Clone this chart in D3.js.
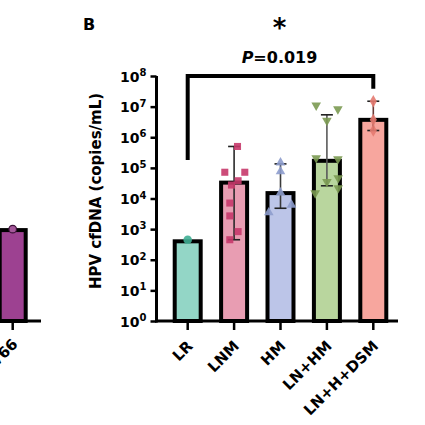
<!DOCTYPE html>
<html lang="en">
<head>
<meta charset="UTF-8">
<title>HPV cfDNA</title>
<script src="https://d3js.org/d3.v7.min.js"></script>
<style>
    body { margin: 0; background: #fff; }
    text { font-family: "DejaVu Sans", sans-serif; font-weight: bold; fill: #000; }
</style>
</head>
<body>
<svg id="chart" width="425" height="425"></svg>
<script>
// ---- data (copies/mL) ----
const categories = ["LR", "LNM", "HM", "LN+HM", "LN+H+DSM"];
const barValues = [400, 33000, 15000, 170000, 3700000];
const errLow = [null, 450, 4800, 26000, 1660000];
const errHigh = [null, 500000, 135000, 5400000, 15000000];
const pointsLR = [450];
const pointsLNM = [500000, 72000, 72000, 38000, 27500, 7100, 2700, 830, 450];
const pointsHM = [148000, 76000, 15500, 3500, 6200];
const pointsLNHM = [11000000, 8300000, 3500000, 210000, 195000, 47000, 35000, 22000, 15000];
const pointsDSM = [15000000, 3700000, 1660000];
const yTickExps = [0, 1, 2, 3, 4, 5, 6, 7, 8];
const pText = "0.019";

// left panel (cut off)
const categoriesA = ["HPV66"];
const barValuesA = [930];
const pointsA = [1000];

// ---- styles / layout ----
const fills = ["#93d6c6", "#e89db2", "#bcc5e8", "#b9d69e", "#f7a69e"];
const dotFills = ["#3fae94", "#c7386a", "#8d9ccd", "#7b9a52", "#e47a70"];
const errColors = ["#333", "#2a2a2a", "#3a3a3a", "#5a5a5a", "#6a3a36"];
const symbols = [d3.symbolCircle, d3.symbolSquare, d3.symbolTriangle, d3.symbolTriangle, d3.symbolDiamond];
const symbolSize = [58, 50, 40, 40, 44];
const symbolRot = [0, 0, 0, 180, 0];
const jitterPx = [
    [0],
    [3.4, -9.3, 10.7, 4, -2.6, -4.3, -4.3, 4, -4.3],
    [0, 0, 0, -11.7, 11],
    [-10.7, 11, 0, -10.7, 11, 11.3, 0, 11.3, -11.7],
    [0, 0, 0]
];
const allPoints = [pointsLR, pointsLNM, pointsHM, pointsLNHM, pointsDSM];

const svg = d3.select("#chart");
const baseY = 321;

const y = d3.scaleLog().domain([1, 1e8]).range([baseY, 76]);
const x = d3.scaleBand().domain(categories).range([164.5, 396.5])
    .paddingInner(0.44).paddingOuter(0.22);
const bw = x.bandwidth();

// bars
svg.append("g").selectAll("rect")
    .data(categories)
    .enter().append("rect")
    .attr("x", d => x(d))
    .attr("y", (d, i) => y(barValues[i]))
    .attr("width", bw)
    .attr("height", (d, i) => baseY - y(barValues[i]))
    .style("fill", (d, i) => fills[i])
    .style("stroke", "#000")
    .style("stroke-width", 4);

// error bars
const eb = svg.append("g");
categories.forEach(function (c, i) {
    if (errLow[i] == null) return;
    const cx = x(c) + bw / 2;
    eb.append("line").attr("x1", cx).attr("x2", cx)
        .attr("y1", y(errLow[i])).attr("y2", y(errHigh[i]))
        .style("stroke", errColors[i]).style("stroke-width", 1.6);
    [errLow[i], errHigh[i]].forEach(function (v) {
        eb.append("line").attr("x1", cx - 6).attr("x2", cx + 6)
            .attr("y1", y(v)).attr("y2", y(v))
            .style("stroke", "#222").style("stroke-width", 1.6);
    });
});

// points
const pg = svg.append("g");
allPoints.forEach(function (pts, i) {
    const cx = x(categories[i]) + bw / 2;
    pg.selectAll(".p" + i)
        .data(pts)
        .enter().append("path")
        .attr("class", "p" + i)
        .attr("d", d3.symbol().type(symbols[i]).size(symbolSize[i]))
        .attr("transform", (d, j) => "translate(" + (cx + jitterPx[i][j]) + "," + y(d) + ") rotate(" + symbolRot[i] + ")")
        .style("fill", dotFills[i])
        .style("opacity", 0.9);
});

// y axis
const yAxis = svg.append("g").attr("transform", "translate(156.5,0)")
    .call(d3.axisLeft(y).tickValues(yTickExps.map(e => Math.pow(10, e))).tickSize(6).tickSizeOuter(0).tickFormat(""));
yAxis.select(".domain").attr("d", "M0," + (baseY + 1.5) + "V" + y(1e8)).style("stroke-width", 3);
yAxis.selectAll(".tick line").style("stroke-width", 2.5);
yAxis.selectAll(".tick").each(function (d, i) {
    const t = d3.select(this).append("text")
        .attr("x", -10).attr("dy", "0.36em")
        .style("text-anchor", "end").style("font-size", "14px");
    t.append("tspan").text("10");
    t.append("tspan").attr("dy", "-0.55em").style("font-size", "10px").text(yTickExps[i]);
});

// x axis
const xAxis = svg.append("g").attr("transform", "translate(0," + baseY + ")")
    .call(d3.axisBottom(x).tickSize(9).tickSizeOuter(0).tickFormat(""));
xAxis.select(".domain").attr("d", "M155,0H398").style("stroke-width", 3);
xAxis.selectAll(".tick line").style("stroke-width", 2.5);
xAxis.selectAll(".tick").append("text")
    .attr("transform", "translate(6,26) rotate(-45)")
    .style("text-anchor", "end").style("font-size", "15px")
    .text(d => d);

// y label
svg.append("text")
    .attr("transform", "translate(101,191) rotate(-90)")
    .style("text-anchor", "middle").style("font-size", "15px")
    .text("HPV cfDNA (copies/mL)");

// significance bracket
const bx1 = x(categories[0]) + bw / 2, bx2 = x(categories[4]) + bw / 2;
svg.append("path")
    .attr("d", "M" + bx1 + "," + y(1.8e5) + "V" + y(1e8) + "H" + bx2 + "V" + y(3.8e7))
    .style("fill", "none").style("stroke", "#000").style("stroke-width", 4);
const pt = svg.append("text").attr("x", (bx1 + bx2) / 2 - 1).attr("y", 63)
    .style("text-anchor", "middle").style("font-size", "16px");
pt.append("tspan").style("font-style", "italic").text("P");
pt.append("tspan").text("=" + pText);
svg.append("text").attr("x", (bx1 + bx2) / 2 - 1).attr("y", 37)
    .style("text-anchor", "middle").style("font-size", "26px").text("*");
svg.append("text").attr("x", 83).attr("y", 30).style("font-size", "16px").text("B");

// left panel (partially visible)
const xA = d3.scaleBand().domain(categoriesA).range([-10.5, 35.9])
    .paddingInner(0.44).paddingOuter(0.22);
svg.append("g").selectAll("rect")
    .data(categoriesA)
    .enter().append("rect")
    .attr("x", d => xA(d))
    .attr("y", (d, i) => y(barValuesA[i]))
    .attr("width", xA.bandwidth())
    .attr("height", (d, i) => baseY - y(barValuesA[i]))
    .style("fill", "#9d4191").style("stroke", "#000").style("stroke-width", 4);
svg.append("g").selectAll("circle")
    .data(pointsA)
    .enter().append("circle")
    .attr("cx", (d, i) => xA(categoriesA[i]) + xA.bandwidth() / 2)
    .attr("cy", d => y(d))
    .attr("r", 3.8)
    .style("fill", "#a4579a").style("stroke", "#3a1036").style("stroke-width", 1.2);
const xAxisA = svg.append("g").attr("transform", "translate(0," + baseY + ")")
    .call(d3.axisBottom(xA).tickSize(9).tickSizeOuter(0).tickFormat(""));
xAxisA.select(".domain").attr("d", "M-5,0H41").style("stroke-width", 3);
xAxisA.selectAll(".tick line").style("stroke-width", 2.5);
xAxisA.selectAll(".tick").append("text")
    .attr("transform", "translate(6,24) rotate(-45)")
    .style("text-anchor", "end").style("font-size", "15px")
    .text(d => d);
</script>
</body>
</html>
